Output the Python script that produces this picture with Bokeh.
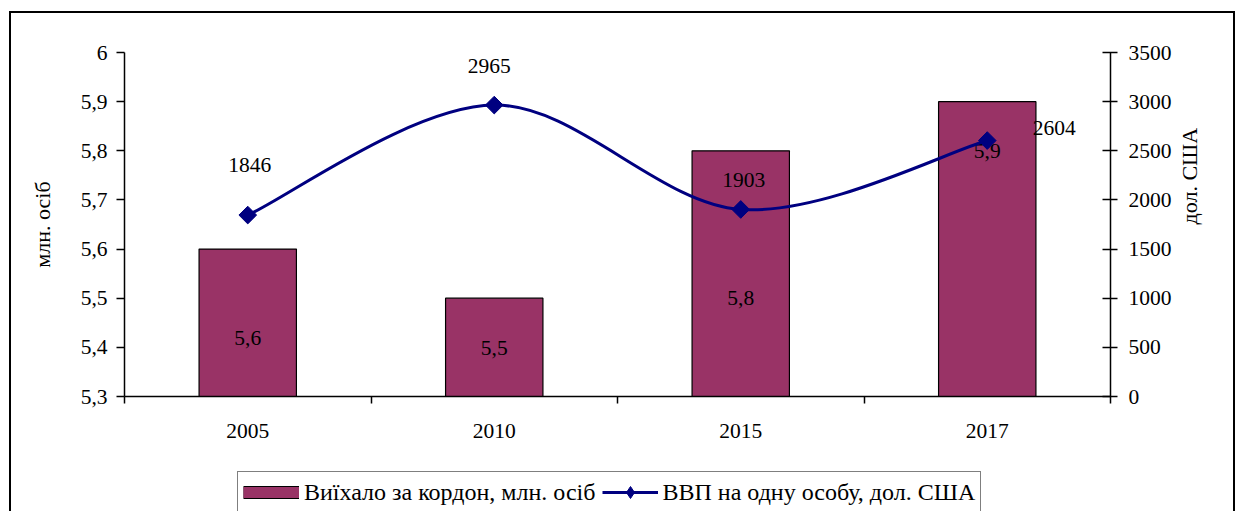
import math
from bokeh.plotting import figure
from bokeh.layouts import column
from bokeh.models import (Range1d, LinearAxis, FixedTicker, Legend, LegendItem,
                          GlobalInlineStyleSheet, ColumnDataSource)
from bokeh.embed import file_html
from bokeh.resources import INLINE

# ---- data ----
years = ["2005", "2010", "2015", "2017"]
emigrated = [5.6, 5.5, 5.8, 5.9]          # млн. осіб
emigrated_labels = ["5,6", "5,5", "5,8", "5,9"]
gdp = [1846, 2965, 1903, 2604]            # дол. США
gdp_labels = ["1846", "2965", "1903", "2604"]
series_names = ["Виїхало за кордон, млн. осіб", "ВВП на одну особу, дол. США"]

left_ticks = [5.3, 5.4, 5.5, 5.6, 5.7, 5.8, 5.9, 6.0]
left_tick_labels = ["5,3", "5,4", "5,5", "5,6", "5,7", "5,8", "5,9", "6"]
right_ticks = [0, 500, 1000, 1500, 2000, 2500, 3000, 3500]

# ---- styles (label offsets in px) ----
bar_label_dy = [89, 50, 147, 49]
gdp_label_dx = [2, -5, 3, 67]
gdp_label_dy = [-50, -39, -29, -13]

FONT = "Liberation Serif"
FS = "21.5px"
BAR_COLOR = "#993366"
LINE_COLOR = "#000080"
BORDER = "2px solid black"

xc = [i + 0.5 for i in range(len(years))]

p = figure(width=1226, height=444, output_backend="svg", toolbar_location=None,
           x_range=Range1d(0, len(years)), y_range=Range1d(5.3, 6.0),
           min_border_left=113, min_border_right=127, min_border_top=39,
           min_border_bottom=61)
p.styles = {"border-top": BORDER, "border-left": BORDER, "border-right": BORDER}
p.stylesheets = [GlobalInlineStyleSheet(css="html, body { overflow: hidden; }")]
p.outline_line_color = None
p.xgrid.visible = False
p.ygrid.visible = False
p.background_fill_color = "white"
p.border_fill_color = "white"

p.extra_y_ranges = {"gdp": Range1d(0, 3500)}

# bars
bar_src = ColumnDataSource(dict(x=xc, top=emigrated, lab=emigrated_labels, dy=bar_label_dy))
p.vbar(x="x", top="top", bottom=5.3, width=0.395, source=bar_src,
       fill_color=BAR_COLOR, line_color="black", line_width=1.2)
p.text(x="x", y="top", text="lab", source=bar_src, y_offset="dy",
       text_align="center", text_baseline="middle",
       text_font={"value": FONT}, text_font_size=FS, text_color="black")

# smoothed line (Excel-style Bezier through the data points)
n = len(gdp)
x0s, y0s, x1s, y1s, cx0s, cy0s, cx1s, cy1s = [], [], [], [], [], [], [], []
for i in range(n - 1):
    pxm, pym = (xc[i - 1], gdp[i - 1]) if i > 0 else (xc[i], gdp[i])
    pxn, pyn = (xc[i + 2], gdp[i + 2]) if i + 2 < n else (xc[i + 1], gdp[i + 1])
    x0s.append(xc[i]); y0s.append(gdp[i])
    x1s.append(xc[i + 1]); y1s.append(gdp[i + 1])
    cx0s.append(xc[i] + (xc[i + 1] - pxm) / 6); cy0s.append(gdp[i] + (gdp[i + 1] - pym) / 6)
    cx1s.append(xc[i + 1] - (pxn - xc[i]) / 6); cy1s.append(gdp[i + 1] - (pyn - gdp[i]) / 6)
p.bezier(x0=x0s, y0=y0s, x1=x1s, y1=y1s, cx0=cx0s, cy0=cy0s, cx1=cx1s, cy1=cy1s,
         line_color=LINE_COLOR, line_width=3, y_range_name="gdp")
gdp_src = ColumnDataSource(dict(x=xc, y=gdp, lab=gdp_labels, dx=gdp_label_dx, dy=gdp_label_dy))
p.scatter(x="x", y="y", source=gdp_src, marker="square", angle=math.pi / 4, size=12.5,
          fill_color=LINE_COLOR, line_color=LINE_COLOR, y_range_name="gdp")
p.text(x="x", y="y", text="lab", source=gdp_src, x_offset="dx", y_offset="dy",
       text_align="center", text_baseline="middle", y_range_name="gdp",
       text_font={"value": FONT}, text_font_size=FS, text_color="black")

# axes
def style_axis(ax):
    ax.axis_line_color = "black"
    ax.axis_line_width = 1.5
    ax.major_tick_line_color = "black"
    ax.major_tick_line_width = 1.5
    ax.minor_tick_line_color = None
    ax.major_label_text_font = FONT
    ax.major_label_text_font_size = FS
    ax.major_label_text_color = "black"
    ax.axis_label_text_font = FONT
    ax.axis_label_text_font_size = "22px"
    ax.axis_label_text_font_style = "normal"
    ax.axis_label_text_color = "black"

xa = p.xaxis[0]
style_axis(xa)
xa.ticker = FixedTicker(ticks=xc, minor_ticks=list(range(len(years) + 1)))
xa.major_label_overrides = {x: y for x, y in zip(xc, years)}
xa.major_tick_in = 0
xa.major_tick_out = 0
xa.minor_tick_line_color = "black"
xa.minor_tick_line_width = 1.5
xa.minor_tick_in = 0
xa.minor_tick_out = 7
xa.major_label_standoff = 20

ya = p.yaxis[0]
style_axis(ya)
ya.ticker = FixedTicker(ticks=left_ticks)
ya.major_label_overrides = {t: l for t, l in zip(left_ticks, left_tick_labels)}
ya.major_tick_in = 0
ya.major_tick_out = 8
ya.major_label_standoff = 9
ya.axis_label = "млн. осіб"
ya.axis_label_standoff = 23

ra = LinearAxis(y_range_name="gdp", ticker=FixedTicker(ticks=right_ticks),
                axis_label="дол. США")
style_axis(ra)
ra.major_tick_in = 8
ra.major_tick_out = 7
ra.major_label_standoff = 11
ra.axis_label_standoff = 15
try:
    ra.axis_label_orientation = math.pi / 2
except Exception:
    pass
p.add_layout(ra, "right")

# ---- legend strip (second figure, same outer frame) ----
p2 = figure(width=1226, height=80, output_backend="svg", toolbar_location=None,
            x_range=Range1d(0, 1), y_range=Range1d(0, 1),
            x_axis_location=None, y_axis_location=None,
            min_border_left=0, min_border_right=0, min_border_top=0, min_border_bottom=0)
p2.styles = {"border-bottom": BORDER, "border-left": BORDER, "border-right": BORDER}
p2.outline_line_color = None
p2.xgrid.visible = False
p2.ygrid.visible = False
p2.border_fill_color = "white"

# legend-only renderers (a single NaN placeholder so nothing is drawn in the strip)
nan = [math.nan]
sw_edge = p2.line(x=nan, y=nan, line_color="black", line_width=13, line_cap="butt")
sw_fill = p2.line(x=nan, y=nan, line_color=BAR_COLOR, line_width=11, line_cap="butt")
lg_line = p2.line(x=nan, y=nan, line_color=LINE_COLOR, line_width=3)
lg_mark = p2.scatter(x=nan, y=nan, marker="diamond", fill_color=LINE_COLOR, line_color=LINE_COLOR)

legend = Legend(items=[LegendItem(label=series_names[0], renderers=[sw_edge, sw_fill]),
                       LegendItem(label=series_names[1], renderers=[lg_line, lg_mark])],
                orientation="horizontal", location=(113, 22))
legend.label_text_font = FONT
legend.label_text_font_size = "24px"
legend.label_text_color = "black"
legend.border_line_color = "black"
legend.border_line_width = 1.2
legend.background_fill_color = "white"
legend.background_fill_alpha = 1
legend.padding = 5
legend.spacing = 6
legend.label_standoff = 5
legend.glyph_width = 56
legend.glyph_height = 30
legend.label_height = 26
legend.margin = 0
p2.add_layout(legend, "center")

layout = column(p, p2, spacing=0, styles={"margin-left": "9px", "margin-top": "11px"})

open("out.html", "w").write(file_html(layout, INLINE))
